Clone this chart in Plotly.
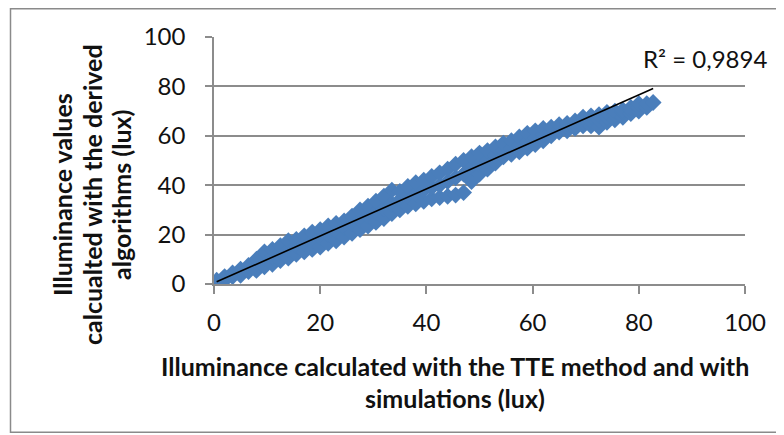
import plotly.graph_objects as go
import numpy as np

# Illuminance from TTE method / simulations (x) vs derived algorithms (y), lux
tte_lux = [
    0.5, 0.5, 2, 2, 3.5, 3.5, 5, 5, 5, 6.5, 6.5, 8, 8, 8, 9.5, 9.5, 9.5,
    11, 11, 11, 12.5, 12.5, 12.5, 14, 14, 14, 15.5, 15.5, 15.5, 17, 17, 17,
    18.5, 18.5, 18.5, 20, 20, 20, 21.5, 21.5, 21.5, 23, 23, 23, 24.5, 24.5, 24.5,
    26, 26, 26, 27.5, 27.5, 27.5, 29, 29, 29, 30.5, 30.5, 30.5, 32, 32, 32,
    33.5, 33.5, 33.5, 35, 35, 35, 36.5, 36.5, 36.5, 38, 38, 38, 39.5, 39.5, 39.5,
    41, 41, 41, 42.5, 42.5, 42.5, 44, 44, 44, 45.5, 45.5, 45.5, 47, 47, 47,
    48.5, 48.5, 48.5, 50, 50, 50, 51.5, 51.5, 51.5, 53, 53, 53, 54.5, 54.5, 54.5,
    56, 56, 56, 57.5, 57.5, 57.5, 59, 59, 59, 60.5, 60.5, 60.5, 62, 62, 62,
    63.5, 63.5, 63.5, 65, 65, 65, 66.5, 66.5, 66.5, 68, 68, 68, 69.5, 69.5, 69.5,
    71, 71, 71, 72.5, 72.5, 72.5, 74, 74, 74, 75.5, 75.5, 75.5, 77, 77, 77,
    78.5, 78.5, 78.5, 80, 80, 80, 81.5, 81.5, 82.7,
]
derived_lux = [
    0.0, 1.5, 1.5, 3.0, 3.0, 4.5, 3.5, 5.0, 6.0, 5.0, 7.5, 5.5, 8.5, 10.0, 7.0, 10.5, 13.0,
    8.0, 11.0, 14.0, 9.5, 13.0, 15.5, 10.5, 14.0, 17.5, 12.0, 15.5, 18.0, 13.0, 16.5, 19.5,
    14.0, 17.5, 21.0, 15.0, 19.0, 22.0, 16.5, 20.0, 23.5, 17.5, 21.5, 24.5, 19.0, 23.0, 25.5,
    20.5, 24.5, 27.5, 22.0, 26.0, 30.0, 23.5, 27.5, 31.5, 25.0, 29.0, 33.5, 26.5, 30.5, 35.5,
    28.5, 32.5, 38.0, 30.0, 34.0, 37.5, 31.5, 35.5, 39.5, 32.5, 36.5, 41.0, 33.5, 38.0, 42.0,
    34.5, 39.0, 43.5, 35.0, 40.0, 45.0, 35.5, 41.5, 46.5, 36.0, 43.0, 48.5, 37.0, 44.5, 50.0,
    41.5, 47.0, 51.5, 44.5, 48.5, 53.0, 46.5, 50.0, 54.0, 49.0, 52.0, 55.5, 51.5, 54.0, 57.0,
    52.5, 55.0, 58.0, 53.5, 56.0, 59.5, 55.0, 57.5, 61.0, 56.5, 59.0, 62.0, 58.0, 60.5, 63.0,
    60.0, 61.5, 63.5, 61.5, 62.5, 64.5, 62.0, 63.5, 65.0, 63.0, 64.5, 66.0, 64.0, 65.5, 67.5,
    64.0, 66.0, 68.0, 63.5, 66.5, 68.5, 65.5, 67.5, 69.5, 66.5, 68.5, 70.0, 67.5, 69.5, 70.5,
    69.0, 70.5, 71.5, 70.0, 71.5, 73.0, 71.5, 73.0, 73.5,
]

# Linear trendline (as shown in the source chart)
trend_slope = 0.952
trend_intercept = 0.4
r2_label = "R² = 0,9894"

x_ticks = [0, 20, 40, 60, 80, 100]
y_ticks = [0, 20, 40, 60, 80, 100]

x_title_lines = ["Illuminance calculated with the TTE method and with", "simulations (lux)"]
y_title_lines = ["Illuminance values", "calcualted with the derived", "algorithms (lux)"]

trend_x = np.array([min(tte_lux), max(tte_lux)])
trend_y = trend_intercept + trend_slope * trend_x

FONT = "Lato"
GRID = "#8c8c8c"
TXT = "#111111"

# plot area in page pixels (page has 8px body offset)
PX0, PX1, PY0, PY1 = 214, 745, 37, 284
PW, PH = PX1 - PX0, PY1 - PY0


def px(xp):
    return (xp - PX0) / PW


def py(yp):
    return (PY1 - yp) / PH


fig = go.Figure()
fig.add_trace(go.Scatter(
    x=tte_lux, y=derived_lux, mode="markers",
    marker=dict(symbol="diamond", size=13, color="#4a7ebb", line=dict(width=0)),
    showlegend=False, hoverinfo="skip",
))
fig.add_trace(go.Scatter(
    x=trend_x, y=trend_y, mode="lines",
    line=dict(color="black", width=1.6),
    showlegend=False, hoverinfo="skip",
))

annotations = []
for line, yc in zip(x_title_lines, [366, 398]):
    annotations.append(dict(text="<b>" + line + "</b>", xref="paper", yref="paper",
                            x=px(455), y=py(yc), xanchor="center", yanchor="middle",
                            showarrow=False, font=dict(family=FONT, size=25, color=TXT)))
for line, xc in zip(y_title_lines, [62, 92, 121]):
    annotations.append(dict(text="<b>" + line + "</b>", xref="paper", yref="paper",
                            x=px(xc), y=py(195), xanchor="center", yanchor="middle",
                            textangle=-90, showarrow=False,
                            font=dict(family=FONT, size=25, color=TXT)))
annotations.append(dict(text=r2_label, xref="paper", yref="paper",
                        x=px(705), y=py(58), xanchor="center", yanchor="middle",
                        showarrow=False, font=dict(family=FONT, size=24, color=TXT)))

fig.update_layout(
    width=784, height=435,
    margin=dict(l=PX0 - 8, r=784 - (PX1 - 8), t=PY0 - 8, b=435 - (PY1 - 8)),
    paper_bgcolor="white", plot_bgcolor="white",
    font=dict(family=FONT, size=24, color=TXT),
    xaxis=dict(
        range=[0, 100], tickvals=x_ticks, showgrid=False, zeroline=False,
        showline=True, linecolor=GRID, linewidth=1.5,
        ticks="outside", ticklen=8, tickwidth=1.5, tickcolor=GRID,
        ticklabelstandoff=8,
    ),
    yaxis=dict(
        range=[0, 100], tickvals=y_ticks, showgrid=True, gridcolor=GRID, gridwidth=1.5,
        zeroline=False, showline=True, linecolor=GRID, linewidth=1.5,
        ticks="outside", ticklen=7, tickwidth=1.5, tickcolor=GRID,
        ticklabelstandoff=15,
    ),
    shapes=[
        dict(type="rect", xref="paper", yref="paper",
             x0=px(10.5), x1=1.3, y0=-0.6, y1=py(8.8),
             line=dict(color="#8a8a8a", width=1.5), fillcolor="rgba(0,0,0,0)", layer="below"),
    ],
    annotations=annotations,
)

fig.write_html("out.html")
